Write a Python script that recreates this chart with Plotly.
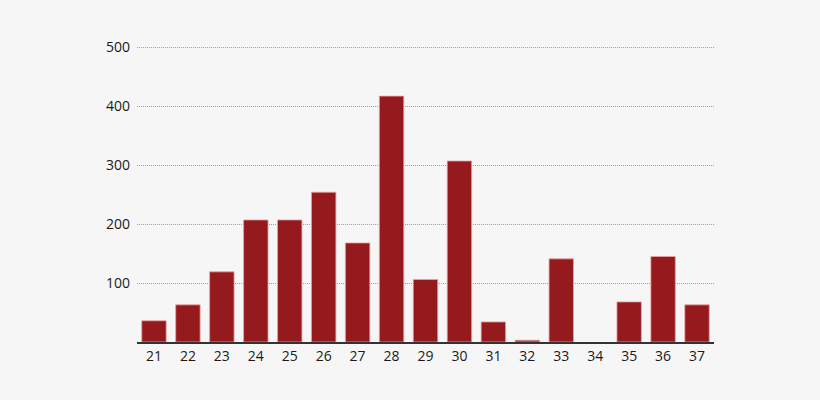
import plotly.graph_objects as go

categories = ["21", "22", "23", "24", "25", "26", "27", "28", "29", "30",
              "31", "32", "33", "34", "35", "36", "37"]
values = [36, 63, 119, 207, 207, 254, 168, 417, 106, 307,
          34, 3, 141, 0, 68, 145, 63]
y_ticks = [100, 200, 300, 400, 500]

line_widths = [1 if v > 0 else 0 for v in values]

fig = go.Figure(go.Bar(
    x=categories, y=values,
    marker=dict(color="#951a1e", line=dict(color="rgba(235,160,160,0.8)", width=line_widths)),
))

fig.update_layout(
    width=820, height=400,
    paper_bgcolor="#f6f6f6", plot_bgcolor="#f6f6f6",
    margin=dict(l=137, r=106, t=46, b=58),
    bargap=0.28,
    showlegend=False,
    font=dict(family="Open Sans, DejaVu Sans, sans-serif", size=14, color="#1a1a1a"),
    xaxis=dict(
        type="category", showgrid=False, showline=True, linecolor="#333333",
        linewidth=1.5, ticks="", tickfont=dict(size=14, color="#1a1a1a"),
    ),
    yaxis=dict(
        range=[0, 502], tickvals=y_ticks, showgrid=True, gridcolor="#a0a0a0",
        griddash="1px,1px", gridwidth=1, zeroline=False, showline=False, ticks="",
        ticklabelstandoff=6, tickfont=dict(size=14, color="#1a1a1a"),
    ),
)

fig.write_html(
    "out.html",
    config={"displayModeBar": False},
    post_script="document.body.style.margin='0';document.body.style.background='#f6f6f6';",
)
